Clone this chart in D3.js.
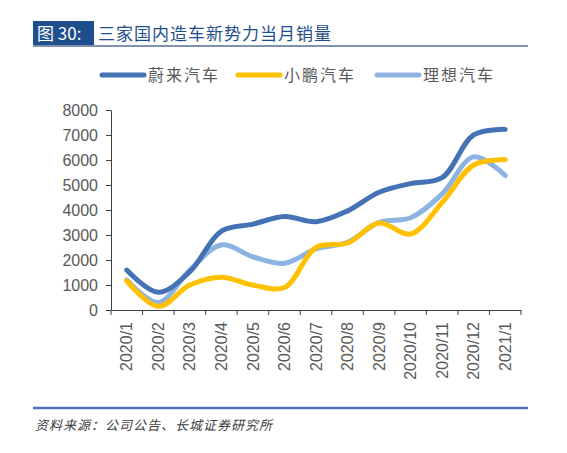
<!DOCTYPE html>
<html><head><meta charset="utf-8">
<script src="https://cdn.jsdelivr.net/npm/d3@7"></script>
<style>
body{margin:0;background:#fff;}
svg{display:block;}
</style></head>
<body><svg id="c" width="567" height="453"></svg>
<script>
const categories = ["2020/1","2020/2","2020/3","2020/4","2020/5","2020/6","2020/7","2020/8","2020/9","2020/10","2020/11","2020/12","2021/1"];
const nio = [1598, 707, 1533, 3155, 3436, 3740, 3533, 3965, 4708, 5055, 5291, 7007, 7225];
const xpeng = [1164, 146, 1000, 1315, 1000, 900, 2500, 2680, 3478, 3040, 4300, 5800, 6015];
const li = [1200, 303, 1600, 2600, 2130, 1870, 2446, 2711, 3504, 3692, 4646, 6126, 5379];
const yTicks = [0,1000,2000,3000,4000,5000,6000,7000,8000];
const seriesNames = ["蔚来汽车","小鹏汽车","理想汽车"];
const seriesColors = ["#4472B4","#FFC000","#8DB3E2"];

const svg = d3.select("#c");
const cjk = "'Noto Sans CJK SC','Noto Sans',sans-serif";
const num = "'Liberation Sans',Arial,sans-serif";

// Title
svg.append("rect").attr("x",33).attr("y",21).attr("width",61).attr("height",24).attr("fill","#1F4E8C");
svg.append("text").attr("x",37).attr("y",40).attr("fill","#fff").attr("font-family",cjk).attr("font-size",17).text("图 30:");
svg.append("text").attr("x",98).attr("y",40).attr("fill","#1F4E8C").attr("font-family",cjk).attr("font-size",17).attr("letter-spacing",1).text("三家国内造车新势力当月销量");
svg.append("line").attr("x1",33).attr("x2",528).attr("y1",46).attr("y2",46).attr("stroke","#7F92AE").attr("stroke-width",2);

// Scales
const x = d3.scaleBand().domain(categories).range([111,521]);
const y = d3.scaleLinear().domain([0,8000]).range([310,110]);

// Axes
const yAxis = d3.axisLeft(y).tickValues(yTicks).tickFormat(d3.format("d")).tickSize(5).tickSizeOuter(0).tickPadding(8);
const gy = svg.append("g").attr("transform","translate(111,0)").call(yAxis);
gy.select(".domain").attr("stroke","#404040");
gy.selectAll(".tick line").attr("stroke","#404040");
gy.selectAll("text").attr("font-family",num).attr("font-size",16).attr("fill","#595959");

const xAxis = d3.axisBottom(x).tickSize(0).tickSizeOuter(0);
const gx = svg.append("g").attr("transform","translate(0,310)").call(xAxis);
gx.select(".domain").attr("stroke","#404040");
gx.selectAll("text").attr("font-family",num).attr("font-size",16).attr("fill","#595959")
  .attr("transform","rotate(-90)").attr("text-anchor","end").attr("x",-12).attr("y",0).attr("dy","0.35em");
// boundary ticks
const bounds = categories.map(c=>x(c)).concat([x.range()[1]]);
svg.append("g").selectAll("line").data(bounds).join("line")
  .attr("x1",d=>d).attr("x2",d=>d).attr("y1",310).attr("y2",315).attr("stroke","#404040");

// Lines
const data = [nio, xpeng, li];
const line = d3.line().x((d,i)=>x(categories[i])+x.bandwidth()/2).y(d=>y(d)).curve(d3.curveCatmullRom.alpha(0.5));
const order = [2,1,0];
order.forEach(k=>{
  svg.append("path").datum(data[k]).attr("d",line).attr("fill","none")
    .attr("stroke",seriesColors[k]).attr("stroke-width",5).attr("stroke-linecap","round");
});

// Legend
const lx = [102,238,377];
seriesNames.forEach((n,i)=>{
  svg.append("line").attr("x1",lx[i]).attr("x2",lx[i]+42).attr("y1",75).attr("y2",75)
    .attr("stroke",seriesColors[i]).attr("stroke-width",5).attr("stroke-linecap","round");
  svg.append("text").attr("x",lx[i]+46).attr("y",81).attr("font-family",cjk).attr("font-size",16)
    .attr("letter-spacing",2).attr("fill","#595959").text(n);
});

// Footer
svg.append("line").attr("x1",33).attr("x2",528).attr("y1",408).attr("y2",408).attr("stroke","#4A72B0").attr("stroke-width",2.5);
svg.append("text").attr("x",35).attr("y",430).attr("font-family",cjk).attr("font-size",13).attr("font-style","italic")
  .attr("letter-spacing",1).attr("fill","#404040").text("资料来源：公司公告、长城证券研究所");
</script></body></html>
